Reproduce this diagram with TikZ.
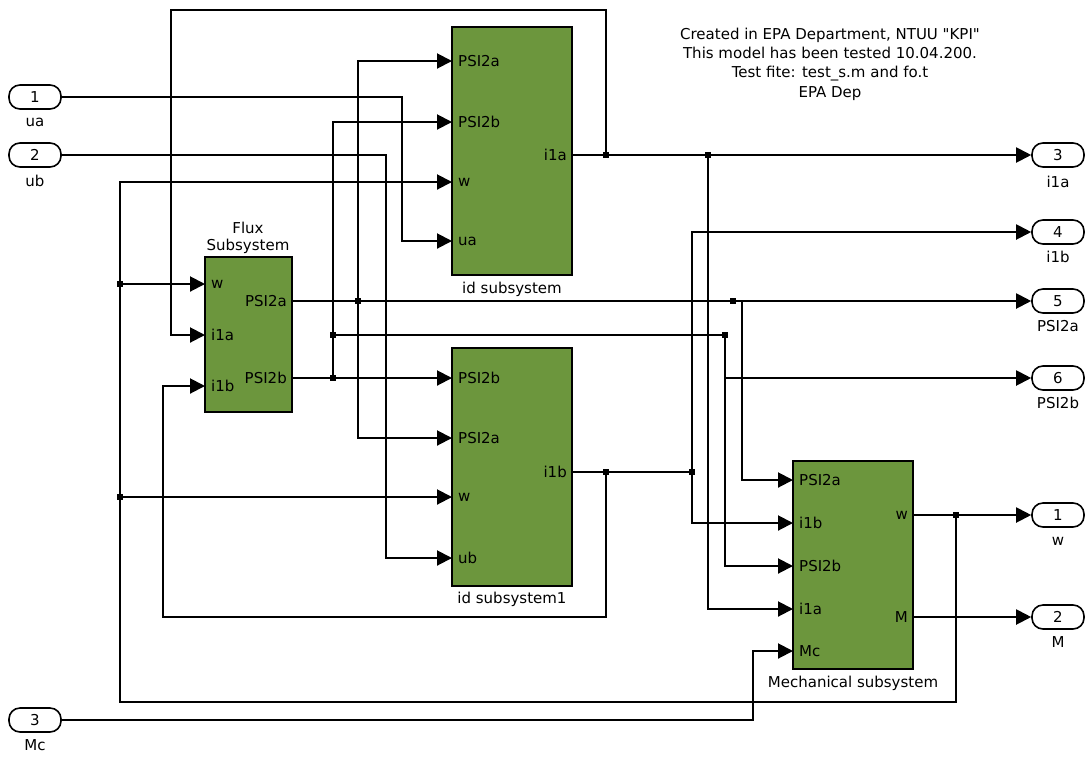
\documentclass[tikz,border=0pt]{standalone}
\usepackage{fontspec}
\setmainfont{DejaVu Sans}
\newfontfamily\notefont{DejaVu Sans}
\usepackage{xcolor}
\usetikzlibrary{positioning, arrows.meta}

\definecolor{simgreen}{RGB}{108,150,61}

\tikzset{
  block/.style={draw, line width=2pt, fill=simgreen, inner sep=0pt},
  port/.style={draw, line width=1.6pt, rounded corners=11pt, minimum width=52pt, minimum height=24pt, inner sep=0pt, font=\fontsize{15}{18}\selectfont},
  plab/.style={inner sep=0pt, font=\fontsize{15}{18}\selectfont},
  sig/.style={line width=2pt, -{Triangle[length=15pt, width=15pt]}},
  wire/.style={line width=2pt},
  junc/.style={fill, rectangle, inner sep=0pt, minimum size=6pt},
}

\begin{document}
\begin{tikzpicture}[x=1pt, y=-1pt]
  \useasboundingbox (0,0) rectangle (1089,756);

  % Inports
  \node[port] (in1) at (35,97) {1};
  \node[plab] (in1-name) at (35,122) {ua};
  \node[port] (in2) at (35,155) {2};
  \node[plab] (in2-name) at (35,181) {ub};
  \node[port] (in3) at (35,720) {3};
  \node[plab] (in3-name) at (35,745) {Mc};

  % Outports
  \node[port] (out3) at (1058,155) {3};
  \node[plab] (out3-name) at (1058,182) {i1a};
  \node[port] (out4) at (1058,232) {4};
  \node[plab] (out4-name) at (1058,257) {i1b};
  \node[port] (out5) at (1058,301) {5};
  \node[plab] (out5-name) at (1058,326) {PSI2a};
  \node[port] (out6) at (1058,378) {6};
  \node[plab] (out6-name) at (1058,403) {PSI2b};
  \node[port] (outw) at (1058,515) {1};
  \node[plab] (outw-name) at (1058,541) {w};
  \node[port] (outm) at (1058,617) {2};
  \node[plab] (outm-name) at (1058,642) {M};

  % Blocks
  \node[block, minimum width=87pt, minimum height=155pt] (flux) at (248.5,334.5) {};
  \node[plab] (flux-name1) at (248,228) {Flux};
  \node[plab] (flux-name2) at (248,246) {Subsystem};
  \node[block, minimum width=120pt, minimum height=248pt] (ida) at (512,151) {};
  \node[plab] (ida-name) at (512,289) {id subsystem};
  \node[block, minimum width=120pt, minimum height=238pt] (idb) at (512,467) {};
  \node[plab] (idb-name) at (512,599) {id subsystem1};
  \node[block, minimum width=120pt, minimum height=208pt] (mech) at (853,565) {};
  \node[plab] (mech-name) at (853,683) {Mechanical subsystem};

  % Block ports
  \coordinate (flux-w) at (205,284);
  \coordinate (flux-i1a) at (205,335);
  \coordinate (flux-i1b) at (205,386);
  \coordinate (flux-psia) at (292,301);
  \coordinate (flux-psib) at (292,378);
  \coordinate (ida-psia) at (452,61);
  \coordinate (ida-psib) at (452,122);
  \coordinate (ida-w) at (452,182);
  \coordinate (ida-ua) at (452,241);
  \coordinate (ida-i1a) at (572,155);
  \coordinate (idb-psib) at (452,378);
  \coordinate (idb-psia) at (452,438);
  \coordinate (idb-w) at (452,497);
  \coordinate (idb-ub) at (452,558);
  \coordinate (idb-i1b) at (572,472);
  \coordinate (mech-psia) at (793,480);
  \coordinate (mech-i1b) at (793,523);
  \coordinate (mech-psib) at (793,566);
  \coordinate (mech-i1a) at (793,609);
  \coordinate (mech-mc) at (793,651);
  \coordinate (mech-w) at (913,515);
  \coordinate (mech-m) at (913,617);

  \foreach \p/\t in {flux-w/w, flux-i1a/i1a, flux-i1b/i1b,
      ida-psia/PSI2a, ida-psib/PSI2b, ida-w/w, ida-ua/ua,
      idb-psib/PSI2b, idb-psia/PSI2a, idb-w/w, idb-ub/ub,
      mech-psia/PSI2a, mech-i1b/i1b, mech-psib/PSI2b, mech-i1a/i1a, mech-mc/Mc}
    \node[plab, right=6pt of \p] (\p-lab) {\t};
  \foreach \p/\t in {flux-psia/PSI2a, flux-psib/PSI2b, ida-i1a/i1a, idb-i1b/i1b,
      mech-w/w, mech-m/M}
    \node[plab, left=5pt of \p] (\p-lab) {\t};

  % Branch points
  \coordinate (j1) at (606,155);
  \coordinate (j2) at (708,155);
  \coordinate (j3) at (606,472);
  \coordinate (j4) at (692,472);
  \coordinate (j5) at (358,301);
  \coordinate (j6) at (733,301);
  \coordinate (j7) at (333,378);
  \coordinate (j8) at (333,335);
  \coordinate (j9) at (725,335);
  \coordinate (j10) at (956,515);
  \coordinate (j11) at (120,284);
  \coordinate (j12) at (120,497);

  % Inputs
  \draw[sig] (in1.east) -| (402,241) -- (ida-ua);
  \draw[sig] (in2.east) -| (386,558) -- (idb-ub);
  \draw[sig] (in3.east) -| (753,651) -- (mech-mc);

  % i1a
  \draw[sig] (ida-i1a) -- (out3.west);
  \draw[sig] (j1) |- (171,10) |- (flux-i1a);
  \draw[sig] (j2) |- (mech-i1a);

  % i1b
  \draw[wire] (idb-i1b) -- (j4);
  \draw[sig] (j3) |- (163,617) |- (flux-i1b);
  \draw[sig] (j4) |- (out4.west);
  \draw[sig] (j4) |- (mech-i1b);

  % PSI2a
  \draw[sig] (flux-psia) -- (out5.west);
  \draw[sig] (j5) |- (ida-psia);
  \draw[sig] (j5) |- (idb-psia);
  \draw[sig] (j6) -- (742,301) |- (mech-psia);

  % PSI2b
  \draw[sig] (flux-psib) -- (idb-psib);
  \draw[sig] (j7) |- (ida-psib);
  \draw[wire] (j8) -- (j9);
  \draw[sig] (j9) |- (out6.west);
  \draw[sig] (j9) |- (mech-psib);

  % w and M
  \draw[sig] (mech-w) -- (outw.west);
  \draw[sig] (j10) |- (120,702) |- (ida-w);
  \draw[sig] (j11) -- (flux-w);
  \draw[sig] (j12) -- (idb-w);
  \draw[sig] (mech-m) -- (outm.west);

  \foreach \j in {j1,j2,j3,j4,j5,j6,j7,j8,j9,j10,j11,j12}
    \node[junc] (\j-dot) at (\j) {};

  % Note
  \node[plab, align=center, font=\notefont\fontsize{15}{19.3}\selectfont] (note) at (830,64)
    {Created in EPA Department, NTUU "KPI"\\This model has been tested 10.04.200.\\Test fite: test\_s.m and fo.t\\EPA Dep};
\end{tikzpicture}
\end{document}
